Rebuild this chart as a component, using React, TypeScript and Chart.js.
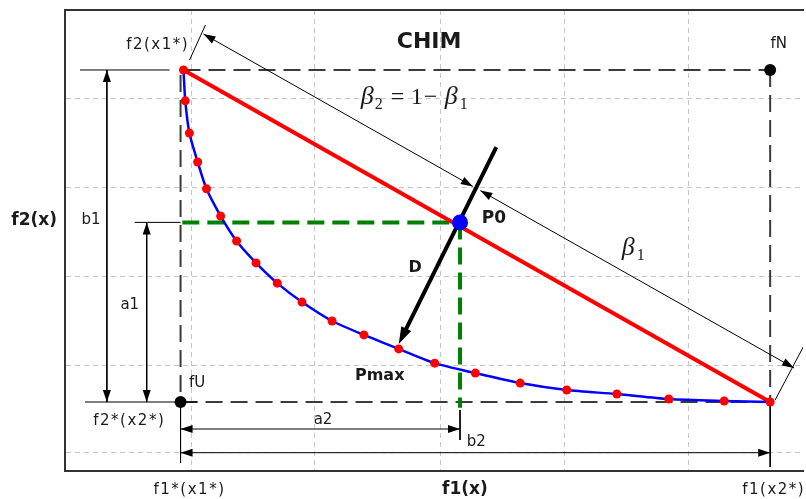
import React, { useEffect, useRef } from "react";
import { Chart, registerables } from "chart.js";

Chart.register(...registerables);

type Pt = { x: number; y: number };

// Objective space, normalised so that f1*(x1*) = 0 .. f1(x2*) = 1 and f2*(x2*) = 0 .. f2(x1*) = 1

// Sampled Pareto front, from the f2(x1*) anchor down to the f1(x2*) anchor
const frontF1 = [0.005, 0.008, 0.015, 0.029, 0.044, 0.068, 0.095, 0.128, 0.164, 0.206, 0.257, 0.311, 0.37, 0.431, 0.5, 0.576, 0.655, 0.74, 0.828, 0.922, 1.0];
const frontF2 = [1.0, 0.907, 0.81, 0.723, 0.642, 0.56, 0.485, 0.419, 0.358, 0.301, 0.244, 0.202, 0.16, 0.117, 0.087, 0.057, 0.036, 0.024, 0.009, 0.003, 0.0];

// Utopia (fU) and nadir (fN) points
const utopiaF = [0, 0];
const nadirF = [1, 1];

// P0 on the CHIM, and the normal D pointing to Pmax
const p0F = [0.474, 0.541];
const dTailF = [0.5355, 0.768];
const dHeadF = [0.37, 0.175];

// Axis extents and grid line positions
const f1Extent = [-0.196, 1.0557];
const f2Extent = [-0.2078, 1.1807];
const f1Grid = [0.0186, 0.228, 0.4404, 0.6515, 0.8615];
const f2Grid = [0.9127, 0.6467, 0.3774, 0.1114, -0.1527];

// Offsets of the dimension lines a1, b1 (in f1) and a2, b2 (in f2)
const b1AtF1 = -0.125;
const a1AtF1 = -0.0574;
const a2AtF2 = -0.0813;
const b2AtF2 = -0.1527;

// Beta measure, drawn parallel to the CHIM and split where D crosses it
const betaStartF = [0.0389, 1.1084];
const betaSplit2F = [0.4957, 0.6494];
const betaSplit1F = [0.5084, 0.6367];
const betaEndF = [1.0405, 0.1024];

const P = (a: number[]): Pt => ({ x: a[0], y: a[1] });

const front: Pt[] = frontF1.map((x, i) => ({ x, y: frontF2[i] }));
const anchorTop = front[0];
const anchorBottom = front[front.length - 1];
const utopia = P(utopiaF);
const nadir = P(nadirF);
const p0 = P(p0F);

type Dim = { a: Pt; b: Pt; heads: [boolean, boolean] };

const dimensionLines: Dim[] = [
  { a: { x: b1AtF1, y: anchorTop.y }, b: { x: b1AtF1, y: utopia.y }, heads: [true, true] },
  { a: { x: a1AtF1, y: p0.y }, b: { x: a1AtF1, y: utopia.y }, heads: [true, true] },
  { a: { x: utopia.x, y: a2AtF2 }, b: { x: p0.x, y: a2AtF2 }, heads: [true, true] },
  { a: { x: utopia.x, y: b2AtF2 }, b: { x: anchorBottom.x, y: b2AtF2 }, heads: [true, true] },
  { a: P(betaStartF), b: P(betaSplit2F), heads: [true, true] },
  { a: P(betaSplit1F), b: P(betaEndF), heads: [true, true] },
];

const extensionLines: Pt[][] = [
  [{ x: -0.1706, y: anchorTop.y }, { x: -0.0186, y: anchorTop.y }],
  [{ x: -0.1622, y: utopia.y }, { x: 0.0287, y: utopia.y }],
  [{ x: -0.0777, y: p0.y }, { x: utopia.x, y: p0.y }],
  [{ x: utopia.x, y: utopia.y }, { x: utopia.x, y: -0.1837 }],
  [{ x: p0.x, y: -0.024 }, { x: p0.x, y: -0.1145 }],
  [{ x: anchorBottom.x, y: anchorBottom.y }, { x: anchorBottom.x, y: -0.1958 }],
  [{ x: 0.0152, y: 1.0301 }, { x: 0.0422, y: 1.1355 }],
  [{ x: 1.0084, y: 0.006 }, { x: 1.0574, y: 0.17 }],
];

const INK = "#1a1a1a";
const SANS = '"DejaVu Sans"';
const SERIF = '"Liberation Serif"';

type Label = { text: string; at: Pt; font: string; align?: CanvasTextAlign; spacing?: number };

const labels: Label[] = [
  { text: "CHIM", at: { x: 0.4215, y: 1.0843 }, font: `bold 22px ${SANS}` },
  { text: "f2(x1*)", at: { x: -0.0389, y: 1.0753 }, font: `15px ${SANS}`, spacing: 1.5 },
  { text: "fN", at: { x: 1.0144, y: 1.0783 }, font: `15px ${SANS}` },
  { text: "P0", at: { x: 0.5313, y: 0.5512 }, font: `bold 17px ${SANS}` },
  { text: "D", at: { x: 0.3978, y: 0.4036 }, font: `bold 16px ${SANS}` },
  { text: "Pmax", at: { x: 0.3378, y: 0.0783 }, font: `bold 16px ${SANS}` },
  { text: "fU", at: { x: 0.0279, y: 0.0572 }, font: `15px ${SANS}` },
  { text: "f2*(x2*)", at: { x: -0.087, y: -0.0572 }, font: `15px ${SANS}`, spacing: 1.5 },
  { text: "a2", at: { x: 0.2416, y: -0.0542 }, font: `15px ${SANS}` },
  { text: "b2", at: { x: 0.5017, y: -0.1205 }, font: `15px ${SANS}` },
  { text: "b1", at: { x: -0.152, y: 0.5482 }, font: `15px ${SANS}` },
  { text: "a1", at: { x: -0.0861, y: 0.2922 }, font: `15px ${SANS}` },
  { text: "f2(x)", at: { x: -0.2483, y: 0.5452 }, font: `bold 17px ${SANS}` },
  { text: "f1(x)", at: { x: 0.4823, y: -0.265 }, font: `bold 17px ${SANS}` },
  { text: "f1*(x1*)", at: { x: 0.0152, y: -0.265 }, font: `15px ${SANS}`, spacing: 1.5 },
  { text: "f1(x2*)", at: { x: 0.9527, y: -0.265 }, font: `15px ${SANS}`, align: "left", spacing: 1.5 },
];

// Runs of the beta formulas: text, font, offset from the anchor in px
type Run = { t: string; font: string; dx: number; dy: number };
const BETA = `italic 26px ${SERIF}`;
const MAIN = `24px ${SERIF}`;
const SUB = `16px ${SERIF}`;
const betaFormulas: { at: Pt; runs: Run[] }[] = [
  {
    at: { x: 0.3057, y: 0.8976 },
    runs: [
      { t: "β", font: BETA, dx: 0, dy: 0 },
      { t: "2", font: SUB, dx: 14, dy: 5 },
      { t: "=", font: MAIN, dx: 30, dy: 0 },
      { t: "1", font: MAIN, dx: 50, dy: 0 },
      { t: "−", font: MAIN, dx: 63, dy: 0 },
      { t: "β", font: BETA, dx: 84, dy: 0 },
      { t: "1", font: SUB, dx: 99, dy: 5 },
    ],
  },
  {
    at: { x: 0.7483, y: 0.4428 },
    runs: [
      { t: "β", font: BETA, dx: 0, dy: 0 },
      { t: "1", font: SUB, dx: 15, dy: 5 },
    ],
  },
];

function lineSet(pts: Pt[], color: string, width: number, dash: number[] = []) {
  return {
    data: pts,
    showLine: true,
    borderColor: color,
    borderWidth: width,
    borderDash: dash,
    borderCapStyle: "butt" as const,
    pointRadius: 0,
    fill: false,
  };
}

function dotSet(pts: Pt[], color: string, radius: number) {
  return {
    data: pts,
    showLine: false,
    pointRadius: radius,
    pointBackgroundColor: color,
    pointBorderWidth: 0,
    borderWidth: 0,
  };
}

function arrowHead(ctx: CanvasRenderingContext2D, tip: Pt, from: Pt, len: number, half: number) {
  const dx = tip.x - from.x;
  const dy = tip.y - from.y;
  const l = Math.hypot(dx, dy) || 1;
  const ux = dx / l;
  const uy = dy / l;
  const bx = tip.x - ux * len;
  const by = tip.y - uy * len;
  ctx.beginPath();
  ctx.moveTo(tip.x, tip.y);
  ctx.lineTo(bx - uy * half, by + ux * half);
  ctx.lineTo(bx + uy * half, by - ux * half);
  ctx.closePath();
  ctx.fill();
}

const toPx = (chart: Chart, p: Pt): Pt => ({
  x: chart.scales.x.getPixelForValue(p.x),
  y: chart.scales.y.getPixelForValue(p.y),
});

const diagramPlugin = {
  id: "chimDiagram",
  beforeDatasetsDraw(chart: Chart) {
    // Normal D from the CHIM to the front
    const ctx = chart.ctx;
    const tail = toPx(chart, P(dTailF));
    const head = toPx(chart, P(dHeadF));
    const l = Math.hypot(head.x - tail.x, head.y - tail.y);
    const ux = (head.x - tail.x) / l;
    const uy = (head.y - tail.y) / l;
    ctx.save();
    ctx.strokeStyle = "#000";
    ctx.fillStyle = "#000";
    ctx.lineWidth = 4;
    ctx.beginPath();
    ctx.moveTo(tail.x, tail.y);
    ctx.lineTo(head.x - ux * 12, head.y - uy * 12);
    ctx.stroke();
    arrowHead(ctx, head, tail, 17, 5.5);
    ctx.restore();
  },
  afterDatasetsDraw(chart: Chart) {
    const ctx = chart.ctx;
    ctx.save();
    ctx.fillStyle = "#000";
    for (const d of dimensionLines) {
      const a = toPx(chart, d.a);
      const b = toPx(chart, d.b);
      if (d.heads[0]) arrowHead(ctx, a, b, 12, 4);
      if (d.heads[1]) arrowHead(ctx, b, a, 12, 4);
    }
    ctx.restore();
  },
  afterDraw(chart: Chart) {
    const ctx = chart.ctx;
    ctx.save();
    ctx.fillStyle = INK;
    ctx.textBaseline = "middle";
    for (const lb of labels) {
      const p = toPx(chart, lb.at);
      ctx.font = lb.font;
      ctx.textAlign = lb.align ?? "center";
      (ctx as any).letterSpacing = `${lb.spacing ?? 0}px`;
      ctx.fillText(lb.text, p.x, p.y);
    }
    (ctx as any).letterSpacing = "0px";
    ctx.textBaseline = "alphabetic";
    ctx.textAlign = "left";
    for (const f of betaFormulas) {
      const p = toPx(chart, f.at);
      for (const r of f.runs) {
        ctx.font = r.font;
        ctx.fillText(r.t, p.x + r.dx, p.y + r.dy);
      }
    }
    ctx.restore();
  },
};

// The plot frame runs past the right edge of the view, so the canvas is a
// little wider than its clipping container.
const VIEW_W = 806;
const VIEW_H = 499;
const CANVAS_W = 811;

export default function App() {
  const ref = useRef<HTMLCanvasElement>(null);

  useEffect(() => {
    document.body.style.margin = "0";
    document.body.style.overflow = "hidden";
    const canvas = ref.current;
    if (!canvas) return;

    // Layers listed bottom to top
    const layers: any[] = [
      lineSet([anchorTop, nadir], "#3a3a3a", 2, [17, 8]),
      lineSet([nadir, anchorBottom], "#3a3a3a", 2, [17, 8]),
      lineSet([{ x: utopia.x, y: 0.985 }, utopia], "#3a3a3a", 2, [17, 8]),
      lineSet([utopia, anchorBottom], "#3a3a3a", 2, [17, 8]),
      ...extensionLines.map((pts) => lineSet(pts, "#000", 1)),
      ...dimensionLines.map((d) => lineSet([d.a, d.b], "#000", 1)),
      lineSet([{ x: 0.003, y: p0.y }, p0], "#008000", 4, [17, 8]),
      lineSet([p0, { x: p0.x, y: -0.017 }], "#008000", 4, [17, 8]),
      lineSet([anchorTop, anchorBottom], "#ff0000", 4),
      {
        data: front,
        showLine: true,
        borderColor: "#0000ff",
        borderWidth: 2.5,
        tension: 0.25,
        pointRadius: 4.5,
        pointBackgroundColor: "#ff0000",
        pointBorderWidth: 0,
        fill: false,
      },
      dotSet([p0], "#0000ff", 8),
      dotSet([nadir, utopia], "#000", 6),
    ];
    const datasets = layers.map((ds, i) => ({ ...ds, order: layers.length - i }));

    const chart = new Chart(canvas, {
      type: "scatter",
      data: { datasets },
      options: {
        responsive: false,
        animation: false,
        events: [],
        layout: { padding: { left: 65, top: 10, right: 0, bottom: 28 } },
        plugins: { legend: { display: false }, tooltip: { enabled: false } },
        scales: {
          x: {
            type: "linear",
            position: "bottom",
            min: f1Extent[0],
            max: f1Extent[1],
            afterBuildTicks: (axis: any) => {
              axis.ticks = f1Grid.map((v) => ({ value: v }));
            },
            ticks: { display: false },
            grid: { color: "#c6c6c6", lineWidth: 1, drawTicks: false },
            border: { display: true, color: "#333", width: 2, dash: [5, 4] },
          },
          xTop: {
            type: "linear",
            position: "top",
            min: f1Extent[0],
            max: f1Extent[1],
            ticks: { display: false },
            grid: { display: false, drawTicks: false },
            border: { display: true, color: "#333", width: 2 },
          },
          y: {
            type: "linear",
            position: "left",
            min: f2Extent[0],
            max: f2Extent[1],
            afterBuildTicks: (axis: any) => {
              axis.ticks = f2Grid.map((v) => ({ value: v }));
            },
            ticks: { display: false },
            grid: { color: "#c6c6c6", lineWidth: 1, drawTicks: false },
            border: { display: true, color: "#333", width: 2, dash: [5, 4] },
          },
        },
      } as any,
      plugins: [diagramPlugin],
    });

    return () => chart.destroy();
  }, []);

  return (
    <div style={{ width: VIEW_W, height: VIEW_H, overflow: "hidden" }}>
      <canvas ref={ref} width={CANVAS_W} height={VIEW_H} style={{ display: "block" }} />
    </div>
  );
}
